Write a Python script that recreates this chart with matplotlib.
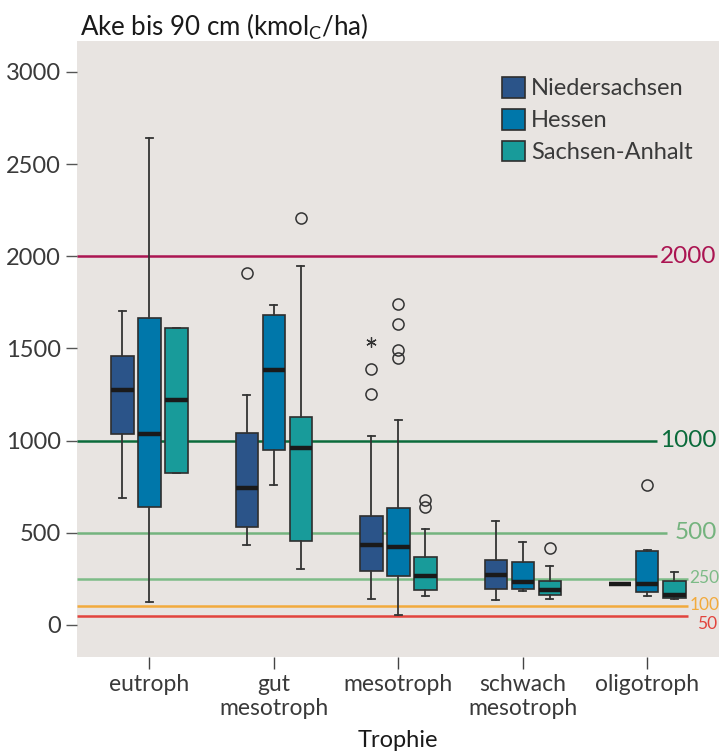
import numpy as np
import matplotlib.pyplot as plt
from matplotlib.patches import Patch
from matplotlib import font_manager

plt.rcParams['font.family'] = ['Lato', 'DejaVu Sans']

# Kategorien und Länder
groups = ['eutroph', 'gut\nmesotroph', 'mesotroph', 'schwach\nmesotroph', 'oligotroph']
states = ['Niedersachsen', 'Hessen', 'Sachsen-Anhalt']
colors = ['#2b5489', '#0077aa', '#189b9a']

# Boxplot-Kennwerte je Land: [whislo, q1, med, q3, whishi] pro Trophiestufe
ni_stats = [[686, 1034, 1274, 1461, 1703],
            [432, 533, 745, 1042, 1250],
            [139, 295, 436, 591, 1024],
            [137, 193, 270, 352, 565],
            [223, 223, 223, 223, 223]]
he_stats = [[124, 640, 1036, 1663, 2644],
            [760, 949, 1383, 1680, 1735],
            [54, 268, 425, 636, 1114],
            [185, 194, 234, 341, 451],
            [158, 178, 223, 400, 406]]
sa_stats = [[825, 825, 1219, 1613, 1613],
            [301, 457, 960, 1130, 1949],
            [159, 190, 266, 367, 518],
            [142, 160, 191, 238, 317],
            [142, 147, 160, 238, 285]]

# Ausreißer (Kreise) und Extremwerte (Sterne)
ni_fliers = [[], [1907], [1252, 1391], [], []]
he_fliers = [[], [], [1446, 1489, 1634, 1739], [], [760]]
sa_fliers = [[], [2206], [638, 679], [415], []]
ni_extremes = [[], [], [1533], [], []]

# Grenzwerte
ref_values = [2000, 1000, 500, 250, 100, 50]
ref_labels = ['2000', '1000', '500', '250', '100', '50']
ref_colors = ['#ab1552', '#0b6b3b', '#74b37e', '#7dbb87', '#f2aa3c', '#e2443d']

all_stats = [ni_stats, he_stats, sa_stats]
all_fliers = [ni_fliers, he_fliers, sa_fliers]

# schmale Schrift für die kleinen Grenzwert-Beschriftungen, falls vorhanden
installed = {f.name for f in font_manager.fontManager.ttflist}
if 'Liberation Sans Narrow' in installed:
    narrow = ['Liberation Sans Narrow']
    narrow_size = 16
else:
    narrow = ['Lato']
    narrow_size = 12.5

fig = plt.figure(figsize=(7.19, 7.54), dpi=100)
ax = fig.add_axes([77 / 719, 97 / 754, 642 / 719, 616 / 754])
ax.set_facecolor('#e8e4e1')
for s in ax.spines.values():
    s.set_visible(False)

x = np.arange(len(groups))
offsets = [-0.217, 0, 0.217]
width = 0.18

# Referenzlinien
line_end = [4.077, 4.077, 4.157, 4.326, 4.326, 4.326]
text_x = [4.10, 4.10, 4.22, 4.34, 4.34, 4.40]
text_y = [2000, 1000, 500, 255, 110, 5]
xmin = -0.581
for i, (v, lab, c) in enumerate(zip(ref_values, ref_labels, ref_colors)):
    ax.hlines(v, xmin, line_end[i], color=c, lw=1.8, zorder=1)
    if i < 3:
        ax.text(text_x[i], text_y[i], lab, color=c, fontsize=17.5, va='center', ha='left', zorder=3)
    else:
        ax.text(text_x[i], text_y[i], lab, color=c, fontsize=narrow_size, family=narrow,
                va='center', ha='left', zorder=3)

for stats, fliers, off, col in zip(all_stats, all_fliers, offsets, colors):
    bxp_stats = []
    for st, fl in zip(stats, fliers):
        bxp_stats.append({'whislo': st[0], 'q1': st[1], 'med': st[2], 'q3': st[3],
                          'whishi': st[4], 'fliers': fl})
    ax.bxp(bxp_stats, positions=x + off, widths=width, patch_artist=True,
           capwidths=0.055, manage_ticks=False,
           boxprops=dict(facecolor=col, edgecolor='#2e2e2e', lw=1.2),
           medianprops=dict(color='#1a1a1a', lw=3.2, solid_capstyle='butt'),
           whiskerprops=dict(color='#333333', lw=1.3),
           capprops=dict(color='#333333', lw=1.3),
           flierprops=dict(marker='o', markerfacecolor='none', markeredgecolor='#333333',
                           markersize=8, markeredgewidth=1.1),
           zorder=2)

for i, ext in enumerate(ni_extremes):
    if ext:
        ax.plot([x[i] + offsets[0]] * len(ext), ext, ls='none', marker=(6, 2, 0),
                color='#333333', markersize=7.5, markeredgewidth=0.9, zorder=3)

ax.set_xlim(xmin, 4.576)
ax.set_ylim(-174, 3168)
ax.set_xticks(x)
ax.set_xticklabels(groups, fontsize=16.5, color='#3a3a3a', linespacing=1.15)
ax.set_yticks([0, 500, 1000, 1500, 2000, 2500, 3000])
ax.tick_params(axis='y', labelsize=17, labelcolor='#3a3a3a', color='#555555',
               length=8, width=1, pad=3.5)
ax.tick_params(axis='x', color='#444444', length=8.5, width=1, pad=4)

ax.set_xlabel('Trophie', fontsize=17, color='#1a1a1a', labelpad=8)
fig.text(80 / 719, 1 - 35 / 754, r'Ake bis 90 cm (kmol$_\mathregular{C}$/ha)',
         fontsize=18.6, color='#1a1a1a', ha='left', va='baseline')

handles = [Patch(facecolor=c, edgecolor='#2e2e2e', lw=1.2) for c in colors]
ax.legend(handles, states, loc='upper left', bbox_to_anchor=(0.662, 0.9415),
          frameon=False, fontsize=17, handlelength=0.97, handleheight=0.97,
          handletextpad=0.25, labelspacing=0.4, borderpad=0, borderaxespad=0,
          labelcolor='#3a3a3a')

fig.savefig('out.png', dpi=100)
